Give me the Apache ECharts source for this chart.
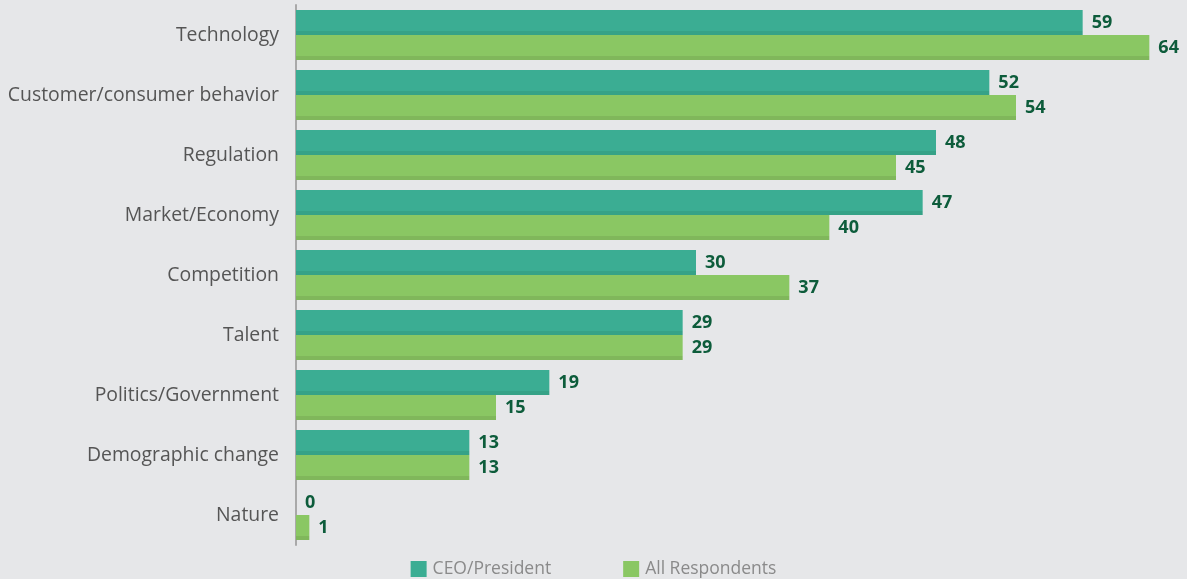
<!DOCTYPE html>
<html>
<head>
<meta charset="utf-8">
<script src="https://cdn.jsdelivr.net/npm/echarts@6/dist/echarts.min.js"></script>
<style>
html,body{margin:0;padding:0;background:#e6e7e9;}
#c{width:1187px;height:579px;}
</style>
</head>
<body>
<div id="c"></div>
<script>
const categories = ["Technology","Customer/consumer behavior","Regulation","Market/Economy","Competition","Talent","Politics/Government","Demographic change","Nature"];
const ceoValues = [59,52,48,47,30,29,19,13,0];
const allValues = [64,54,45,40,37,29,15,13,1];
const seriesNames = ["CEO/President","All Respondents"];

function grad(main, dark){
  return {type:'linear',x:0,y:0,x2:0,y2:1,colorStops:[
    {offset:0,color:main},{offset:0.84,color:main},{offset:0.84,color:dark},{offset:1,color:dark}]};
}
const chart = echarts.init(document.getElementById('c'));
const labelStyle = {show:true,position:'right',distance:9,color:'#0d5c3b',fontWeight:'bold',fontSize:18,fontFamily:'Open Sans',padding:[4,0,0,0]};
chart.setOption({
  backgroundColor:'#e6e7e9',
  animation:false,
  grid:{left:296,top:5,width:880,height:540},
  legend:{
    top:555,left:'center',itemWidth:16,itemHeight:16,itemGap:72,icon:'rect',
    textStyle:{color:'#8a8a8a',fontSize:17.5,fontFamily:'Open Sans',padding:[0,0,0,1]},
    data:[{name:seriesNames[0],itemStyle:{color:'#3bad93'}},{name:seriesNames[1],itemStyle:{color:'#8ac763'}}]
  },
  xAxis:{type:'value',min:0,max:66,show:false},
  yAxis:{type:'category',inverse:true,data:categories,
    axisLine:{show:true,lineStyle:{color:'#a9a9a9',width:2}},
    axisTick:{show:false},
    axisLabel:{color:'#555',fontSize:19.4,margin:17,fontFamily:'Open Sans',padding:[4,0,0,0]}
  },
  series:[
    {name:seriesNames[0],type:'bar',data:ceoValues,barGap:'0%',barCategoryGap:'16.7%',
      itemStyle:{color:grad('#3bad93','#36a287')},label:labelStyle},
    {name:seriesNames[1],type:'bar',data:allValues,
      itemStyle:{color:grad('#8ac763','#80b75b')},label:labelStyle}
  ]
});
</script>
</body>
</html>
